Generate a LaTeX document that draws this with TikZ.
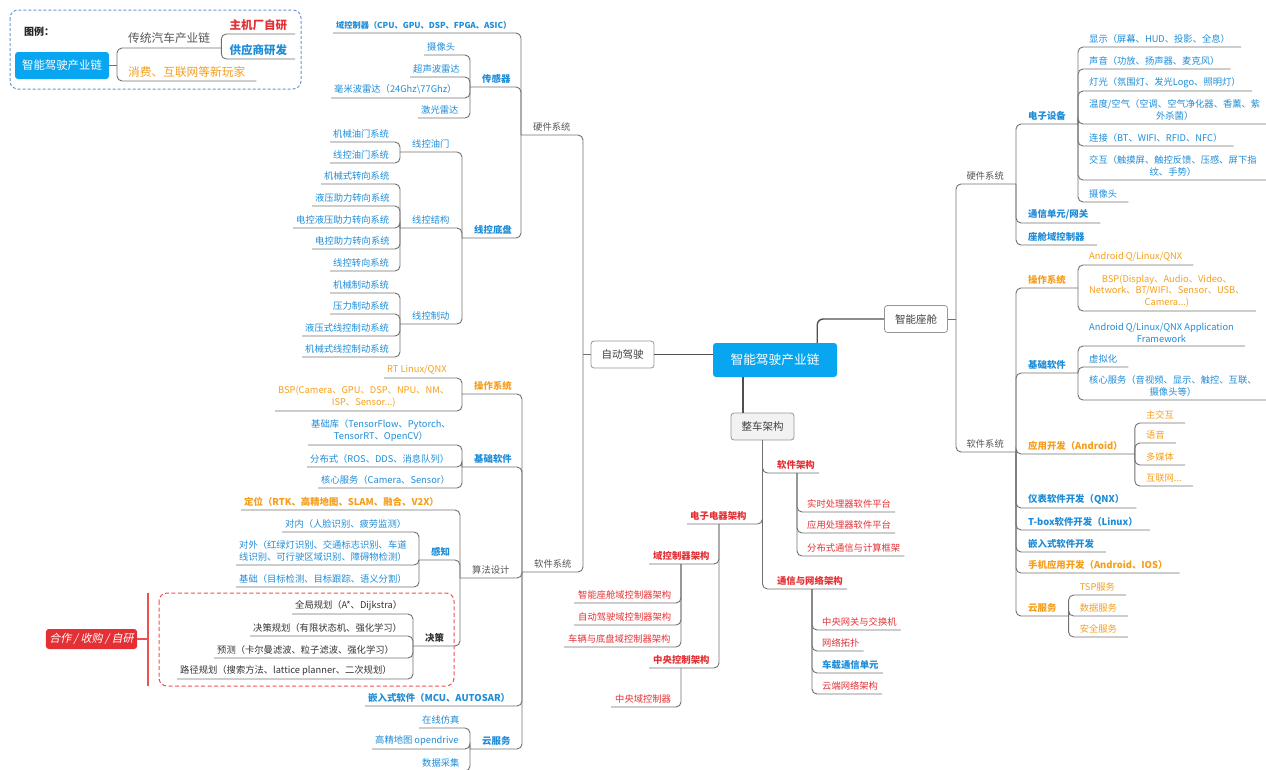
\documentclass[tikz,border=0pt]{standalone}
\usepackage{fontspec}
\setmainfont{Noto Sans CJK SC}
\newfontfamily\slantfont{Noto Sans CJK SC}[FakeSlant=0.2]

\definecolor{mapblue}{RGB}{30,140,215}
\definecolor{maporange}{RGB}{245,158,28}
\definecolor{mapred}{RGB}{228,48,52}
\definecolor{mapgray}{RGB}{85,85,85}
\definecolor{mapline}{RGB}{112,112,112}
\definecolor{linkgray}{RGB}{80,80,80}
\definecolor{boxline}{RGB}{150,150,150}
\definecolor{boxgray}{RGB}{242,242,242}
\definecolor{hubblue}{RGB}{8,166,240}
\definecolor{legendframe}{RGB}{105,150,210}
\definecolor{coopred}{RGB}{238,80,80}

\tikzset{
  conn/.style={draw=mapline, line width=0.9pt, rounded corners=5pt},
  link/.style={draw=linkgray, line width=1.4pt, rounded corners=6pt},
  leafL/.style={anchor=south west, inner xsep=3pt, inner ysep=3.3pt, align=center,
    font=\fontsize{9.3}{11.8}\selectfont},
  leafR/.style={leafL, inner xsep=11pt},
  pad/.style={inner xsep=12pt},
  bold/.style={font=\fontsize{9.4}{11.8}\selectfont\bfseries},
  blueT/.style={text=mapblue},
  orangeT/.style={text=maporange},
  redT/.style={text=mapred},
  grayT/.style={text=mapgray},
  darkT/.style={text=black!80},
  hubbox/.style={fill=hubblue, text=white, rounded corners=3pt},
  mainbox/.style={draw=boxline, line width=0.8pt, fill=white, rounded corners=3pt,
    minimum width=63pt, minimum height=27pt, font=\fontsize{10.5}{12}\selectfont, text=black!75}
}

\begin{document}
\begin{tikzpicture}[x=1pt, y=-1pt]
  \useasboundingbox (0,0) rectangle (1266,769);

  % Legend
  \draw[legendframe, line width=1pt, dash pattern=on 3pt off 2pt, rounded corners=8pt] (10,10) rectangle (301,89);
  \node[font=\fontsize{10}{12}\selectfont\bfseries, text=black!85] (legendtitle) at (39,32) {图例：};
  \node[hubbox, minimum width=94pt, minimum height=27pt, font=\fontsize{11.4}{13}\selectfont] (lhub) at (62,65.5) {智能驾驶产业链};
  \coordinate (lhubJ) at (117,65.5);
  \node[leafR, grayT, inner ysep=4pt, font=\fontsize{11.7}{14}\selectfont] (ltrad) at (117,48) {传统汽车产业链};
  \node[leafR, redT, inner xsep=8pt, inner ysep=3.5pt, font=\fontsize{11.5}{14}\selectfont\bfseries] (loem) at (ltrad.south east |- 0,34) {主机厂自研};
  \node[leafR, blueT, inner xsep=8pt, inner ysep=3.5pt, font=\fontsize{11.5}{14}\selectfont\bfseries] (lsupp) at (ltrad.south east |- 0,59) {供应商研发};
  \node[leafR, orangeT, inner ysep=3.5pt, font=\fontsize{11.7}{14}\selectfont] (lnew) at (117,81) {消费、互联网等新玩家};
  \draw[conn] (lhub.east) -- (lhubJ);
  \draw[conn] (ltrad.south east) -| (lhubJ);
  \draw[conn] (lnew.south east) -| (lhubJ);
  \draw[conn] (loem.south east) -| (ltrad.south east);
  \draw[conn] (lsupp.south east) -| (ltrad.south east);

  % Central topics
  \node[hubbox, minimum width=124pt, minimum height=34pt, font=\fontsize{12.7}{15}\selectfont] (hub) at (775,360) {智能驾驶产业链};
  \node[mainbox] (ad) at (622.5,354.5) {自动驾驶};
  \node[mainbox] (cab) at (916,319) {智能座舱};
  \node[mainbox, fill=boxgray] (vab) at (762.5,426.5) {整车架构};
  \draw[link] (ad.east) -- (ad.east -| hub.west);
  \draw[link] ([xshift=-20pt]hub.north east) |- (cab.west);
  \draw[link] ([xshift=30pt]hub.south west) -- ([xshift=30pt]hub.south west |- vab.north);

  \coordinate (adJ) at (583,354.5);
  \coordinate (cabJ) at (956,319);
  \draw[conn] (ad.west) -- (adJ);
  \draw[conn] (cab.east) -- (cabJ);

  % Autonomous driving: hardware
  \node[leafL, pad, grayT] (hwL) at (521,135) {硬件系统};
  \node[leafL, blueT, font=\fontsize{8.2}{10}\selectfont\bfseries] (domain) at (333,33) {域控制器（CPU、GPU、DSP、FPGA、ASIC）};
  \node[leafL, pad, blueT, bold] (sensor) at (470,87) {传感器};
  \node[leafL, blueT] (camera) at (424,55) {摄像头};
  \node[leafL, blueT] (ultra) at (410,77) {超声波雷达};
  \node[leafL, blueT] (mmw) at (331,98) {毫米波雷达（24Ghz\textbackslash 77Ghz）};
  \node[leafL, blueT] (lidar) at (418,118) {激光雷达};
  \node[leafL, pad, blueT, bold] (chassis) at (462,238) {线控底盘};
  \node[leafL, pad, blueT] (throttle) at (400,152) {线控油门};
  \node[leafL, blueT] (thr1) at (330,142) {机械油门系统};
  \node[leafL, blueT] (thr2) at (330,163) {线控油门系统};
  \node[leafL, pad, blueT] (steer) at (400,228) {线控结构};
  \node[leafL, blueT] (st1) at (321,184) {机械式转向系统};
  \node[leafL, blueT] (st2) at (312,206) {液压助力转向系统};
  \node[leafL, blueT] (st3) at (293,228) {电控液压助力转向系统};
  \node[leafL, blueT] (st4) at (312,249) {电控助力转向系统};
  \node[leafL, blueT] (st5) at (330,271) {线控转向系统};
  \node[leafL, pad, blueT] (brake) at (400,324) {线控制动};
  \node[leafL, blueT] (br1) at (330,293) {机械制动系统};
  \node[leafL, blueT] (br2) at (330,314) {压力制动系统};
  \node[leafL, blueT] (br3) at (302,336) {液压式线控制动系统};
  \node[leafL, blueT] (br4) at (302,357) {机械式线控制动系统};

  \draw[conn] (hwL.south west) -| (adJ);
  \draw[conn] (domain.south west) -| (hwL.south west);
  \draw[conn] (sensor.south west) -| (hwL.south west);
  \draw[conn] (chassis.south west) -| (hwL.south west);
  \draw[conn] (camera.south west) -| (sensor.south west);
  \draw[conn] (ultra.south west) -| (sensor.south west);
  \draw[conn] (mmw.south west) -| (sensor.south west);
  \draw[conn] (lidar.south west) -| (sensor.south west);
  \draw[conn] (throttle.south west) -| (chassis.south west);
  \draw[conn] (steer.south west) -| (chassis.south west);
  \draw[conn] (brake.south west) -| (chassis.south west);
  \draw[conn] (thr1.south west) -| (throttle.south west);
  \draw[conn] (thr2.south west) -| (throttle.south west);
  \draw[conn] (st1.south west) -| (steer.south west);
  \draw[conn] (st2.south west) -| (steer.south west);
  \draw[conn] (st3.south west) -| (steer.south west);
  \draw[conn] (st4.south west) -| (steer.south west);
  \draw[conn] (st5.south west) -| (steer.south west);
  \draw[conn] (br1.south west) -| (brake.south west);
  \draw[conn] (br2.south west) -| (brake.south west);
  \draw[conn] (br3.south west) -| (brake.south west);
  \draw[conn] (br4.south west) -| (brake.south west);

  % Autonomous driving: software
  \node[leafL, pad, grayT] (swL) at (522,572) {软件系统};
  \node[leafL, pad, orangeT, bold] (osL) at (462,394) {操作系统};
  \node[leafL, orangeT] (rtos) at (384,378) {RT Linux/QNX};
  \node[leafL, orangeT] (bspL) at (275,411) {BSP(Camera、GPU、DSP、NPU、NM、\\ISP、Sensor...)};
  \node[leafL, pad, blueT, bold] (baseL) at (462,467) {基础软件};
  \node[leafL, blueT] (libs) at (308,445) {基础库（TensorFlow、Pytorch、\\TensorRT、OpenCV）};
  \node[leafL, blueT] (distrib) at (307,467) {分布式（ROS、DDS、消息队列）};
  \node[leafL, blueT] (coreL) at (318,488) {核心服务（Camera、Sensor）};
  \node[leafL, pad, grayT] (algo) at (460,578) {算法设计};
  \node[leafL, orangeT, bold] (locate) at (241,510) {定位（RTK、高精地图、SLAM、融合、V2X）};
  \node[leafL, pad, blueT, bold] (percept) at (419,560) {感知};
  \node[leafL, blueT] (inward) at (282,532) {对内（人脸识别、疲劳监测）};
  \node[leafL, blueT] (outward) at (236,565) {对外（红绿灯识别、交通标志识别、车道\\线识别、可行驶区域识别、障碍物检测）};
  \node[leafL, blueT] (basic) at (236,587) {基础（目标检测、目标跟踪、语义分割）};
  \node[leafL, pad, darkT, bold] (decide) at (413,646) {决策};
  \node[leafL, darkT] (globalplan) at (292,614) {全局规划（A*、Dijkstra）};
  \node[leafL, darkT] (behavior) at (250,636) {决策规划（有限状态机、强化学习）};
  \node[leafL, darkT] (predict) at (214,658) {预测（卡尔曼滤波、粒子滤波、强化学习）};
  \node[leafL, darkT] (pathplan) at (177,679) {路径规划（搜索方法、lattice planner、二次规划）};
  \node[leafL, blueT, bold] (embedL) at (365,706) {嵌入式软件（MCU、AUTOSAR）};
  \node[leafL, pad, blueT, bold] (cloudL) at (470,749) {云服务};
  \node[leafL, blueT] (simu) at (419,728) {在线仿真};
  \node[leafL, blueT] (hdmap) at (372,749) {高精地图 opendrive};
  \node[leafL, blueT] (datacol) at (419,771) {数据采集};

  \draw[conn] (swL.south west) -| (adJ);
  \draw[conn] (osL.south west) -| (swL.south west);
  \draw[conn] (baseL.south west) -| (swL.south west);
  \draw[conn] (algo.south west) -| (swL.south west);
  \draw[conn] (embedL.south west) -| (swL.south west);
  \draw[conn] (cloudL.south west) -| (swL.south west);
  \draw[conn] (rtos.south west) -| (osL.south west);
  \draw[conn] (bspL.south west) -| (osL.south west);
  \draw[conn] (libs.south west) -| (baseL.south west);
  \draw[conn] (distrib.south west) -| (baseL.south west);
  \draw[conn] (coreL.south west) -| (baseL.south west);
  \draw[conn] (locate.south west) -| (algo.south west);
  \draw[conn] (percept.south west) -| (algo.south west);
  \draw[conn] (decide.south west) -| (algo.south west);
  \draw[conn] (inward.south west) -| (percept.south west);
  \draw[conn] (outward.south west) -| (percept.south west);
  \draw[conn] (basic.south west) -| (percept.south west);
  \draw[conn] (globalplan.south west) -| (decide.south west);
  \draw[conn] (behavior.south west) -| (decide.south west);
  \draw[conn] (predict.south west) -| (decide.south west);
  \draw[conn] (pathplan.south west) -| (decide.south west);
  \draw[conn] (simu.south west) -| (cloudL.south west);
  \draw[conn] (hdmap.south west) -| (cloudL.south west);
  \draw[conn] (datacol.south west) -| (cloudL.south west);

  % Cooperation bracket
  \draw[coopred, line width=1pt, dash pattern=on 4pt off 2.5pt, rounded corners=8pt] (159,593) rectangle (454,686);
  \node[fill=mapred, rounded corners=3pt, minimum width=89pt, minimum height=20pt, text=white,
    font=\fontsize{11}{13}\selectfont\slantfont] (coop) at (91.5,639) {合作 / 收购 / 自研};
  \coordinate (coopJ) at (148,639);
  \draw[coopred, line width=1.2pt] (coop.east) -- (coopJ);
  \draw[coopred, line width=1.2pt] (coopJ |- 0,593) -- (coopJ |- 0,686);

  % Smart cockpit: hardware
  \node[leafL, pad, grayT, anchor=south east] (hwR) at (1016,184) {硬件系统};
  \node[leafL, pad, blueT, bold] (device) at (hwR.south east |- 0,124) {电子设备};
  \node[leafR, blueT] (display) at (device.south east |- 0,47) {显示（屏幕、HUD、投影、全息）};
  \node[leafR, blueT] (sound) at (device.south east |- 0,69) {声音（功放、扬声器、麦克风）};
  \node[leafR, blueT] (light) at (device.south east |- 0,91) {灯光（氛围灯、发光Logo、照明灯）};
  \node[leafR, blueT] (climate) at (device.south east |- 0,124) {温度/空气（空调、空气净化器、香薰、紫\\外杀菌）};
  \node[leafR, blueT] (connect) at (device.south east |- 0,146) {连接（BT、WIFI、RFID、NFC）};
  \node[leafR, blueT] (interact) at (device.south east |- 0,180) {交互（触摸屏、触控反馈、压感、屏下指\\纹、手势）};
  \node[leafR, blueT] (cabcam) at (device.south east |- 0,202) {摄像头};
  \node[leafL, pad, blueT, bold] (gateway) at (hwR.south east |- 0,223) {通信单元/网关};
  \node[leafL, pad, blueT, bold] (cabdomain) at (hwR.south east |- 0,245) {座舱域控制器};

  \draw[conn] (hwR.south east) -| (cabJ);
  \draw[conn] (device.south east) -| (hwR.south east);
  \draw[conn] (gateway.south east) -| (hwR.south east);
  \draw[conn] (cabdomain.south east) -| (hwR.south east);
  \draw[conn] (display.south east) -| (device.south east);
  \draw[conn] (sound.south east) -| (device.south east);
  \draw[conn] (light.south east) -| (device.south east);
  \draw[conn] (climate.south east) -| (device.south east);
  \draw[conn] (connect.south east) -| (device.south east);
  \draw[conn] (interact.south east) -| (device.south east);
  \draw[conn] (cabcam.south east) -| (device.south east);

  % Smart cockpit: software
  \node[leafL, pad, grayT, anchor=south east] (swR) at (1016,452) {软件系统};
  \node[leafL, pad, orangeT, bold] (osR) at (swR.south east |- 0,288) {操作系统};
  \node[leafR, orangeT] (osname) at (osR.south east |- 0,265) {Android Q/Linux/QNX};
  \node[leafR, orangeT] (bspR) at (osR.south east |- 0,311) {BSP(Display、Audio、Video、\\Network、BT/WIFI、Sensor、USB、\\Camera...)};
  \node[leafL, pad, blueT, bold] (baseR) at (swR.south east |- 0,373) {基础软件};
  \node[leafR, blueT] (appfw) at (baseR.south east |- 0,346) {Android Q/Linux/QNX Application\\Framework};
  \node[leafR, blueT] (virtual) at (baseR.south east |- 0,367) {虚拟化};
  \node[leafR, blueT] (coreR) at (baseR.south east |- 0,400) {核心服务（音视频、显示、触控、互联、\\摄像头等）};
  \node[leafL, pad, orangeT, bold] (appdev) at (swR.south east |- 0,454) {应用开发（Android）};
  \node[leafR, orangeT] (mainui) at (appdev.south east |- 0,423) {主交互};
  \node[leafR, orangeT] (voice) at (appdev.south east |- 0,443) {语音};
  \node[leafR, orangeT] (media) at (appdev.south east |- 0,465) {多媒体};
  \node[leafR, orangeT] (internet) at (appdev.south east |- 0,486) {互联网...};
  \node[leafL, pad, blueT, bold] (cluster) at (swR.south east |- 0,508) {仪表软件开发（QNX）};
  \node[leafL, pad, blueT, bold] (tbox) at (swR.south east |- 0,530) {T-box软件开发（Linux）};
  \node[leafL, pad, blueT, bold] (embedR) at (swR.south east |- 0,552) {嵌入式软件开发};
  \node[leafL, pad, orangeT, bold] (mobile) at (swR.south east |- 0,573) {手机应用开发（Android、IOS）};
  \node[leafL, pad, orangeT, bold] (cloudR) at (swR.south east |- 0,616) {云服务};
  \node[leafR, orangeT] (tsp) at (cloudR.south east |- 0,595) {TSP服务};
  \node[leafR, orangeT] (dataserv) at (cloudR.south east |- 0,616) {数据服务};
  \node[leafR, orangeT] (security) at (cloudR.south east |- 0,637) {安全服务};

  \draw[conn] (swR.south east) -| (cabJ);
  \draw[conn] (osR.south east) -| (swR.south east);
  \draw[conn] (baseR.south east) -| (swR.south east);
  \draw[conn] (appdev.south east) -| (swR.south east);
  \draw[conn] (cluster.south east) -| (swR.south east);
  \draw[conn] (tbox.south east) -| (swR.south east);
  \draw[conn] (embedR.south east) -| (swR.south east);
  \draw[conn] (mobile.south east) -| (swR.south east);
  \draw[conn] (cloudR.south east) -| (swR.south east);
  \draw[conn] (osname.south east) -| (osR.south east);
  \draw[conn] (bspR.south east) -| (osR.south east);
  \draw[conn] (appfw.south east) -| (baseR.south east);
  \draw[conn] (virtual.south east) -| (baseR.south east);
  \draw[conn] (coreR.south east) -| (baseR.south east);
  \draw[conn] (mainui.south east) -| (appdev.south east);
  \draw[conn] (voice.south east) -| (appdev.south east);
  \draw[conn] (media.south east) -| (appdev.south east);
  \draw[conn] (internet.south east) -| (appdev.south east);
  \draw[conn] (tsp.south east) -| (cloudR.south east);
  \draw[conn] (dataserv.south east) -| (cloudR.south east);
  \draw[conn] (security.south east) -| (cloudR.south east);

  % Vehicle architecture
  \node[leafL, redT, bold, inner xsep=4pt, anchor=south east] (swA) at (819,473) {软件架构};
  \coordinate (swJ) at (797,473);
  \node[leafL, redT, inner xsep=4pt] (rtplat) at (803,512) {实时处理器软件平台};
  \node[leafL, redT, inner xsep=4pt] (applat) at (803,533) {应用处理器软件平台};
  \node[leafL, redT, inner xsep=4pt] (distframe) at (803,556) {分布式通信与计算框架};
  \node[leafL, redT, bold] (eeA) at (687,524) {电子电器架构};
  \coordinate (eeJ) at (719,524);
  \node[leafL, redT, bold, inner xsep=4pt] (dcA) at (649,564) {域控制器架构};
  \coordinate (dcJ) at (681,564);
  \node[leafL, redT, inner xsep=4pt] (dc1) at (574,603) {智能座舱域控制器架构};
  \node[leafL, redT, inner xsep=4pt] (dc2) at (574,625) {自动驾驶域控制器架构};
  \node[leafL, redT, inner xsep=4pt] (dc3) at (564,647) {车辆与底盘域控制器架构};
  \node[leafL, redT, bold, inner xsep=4pt] (ccA) at (649,668) {中央控制架构};
  \coordinate (ccJ) at (681,668);
  \node[leafL, redT, inner xsep=4pt] (cc1) at (611,707) {中央域控制器};
  \node[leafL, redT, bold, inner xsep=4pt, anchor=south east] (cnA) at (847,589) {通信与网络架构};
  \coordinate (cnJ) at (812,589);
  \node[leafL, redT, inner xsep=4pt] (cn1) at (818,630) {中央网关与交换机};
  \node[leafL, redT, inner xsep=4pt] (cn2) at (818,651) {网络拓扑};
  \node[leafL, blueT, bold, inner xsep=4pt] (cn3) at (818,673) {车载通信单元};
  \node[leafL, redT, inner xsep=4pt] (cn4) at (818,694) {云端网络架构};

  \draw[conn] (swA.south east) -| (vab.south);
  \draw[conn] (eeA.south west) -| (vab.south);
  \draw[conn] (cnA.south east) -| (vab.south);
  \draw[conn] (rtplat.south east) -| (swJ);
  \draw[conn] (applat.south east) -| (swJ);
  \draw[conn] (distframe.south east) -| (swJ);
  \draw[conn] (dcA.south west) -| (eeJ);
  \draw[conn] (ccA.south west) -| (eeJ);
  \draw[conn] (dc1.south west) -| (dcJ);
  \draw[conn] (dc2.south west) -| (dcJ);
  \draw[conn] (dc3.south west) -| (dcJ);
  \draw[conn] (cc1.south west) -| (ccJ);
  \draw[conn] (cn1.south east) -| (cnJ);
  \draw[conn] (cn2.south east) -| (cnJ);
  \draw[conn] (cn3.south east) -| (cnJ);
  \draw[conn] (cn4.south east) -| (cnJ);

\end{tikzpicture}
\end{document}
